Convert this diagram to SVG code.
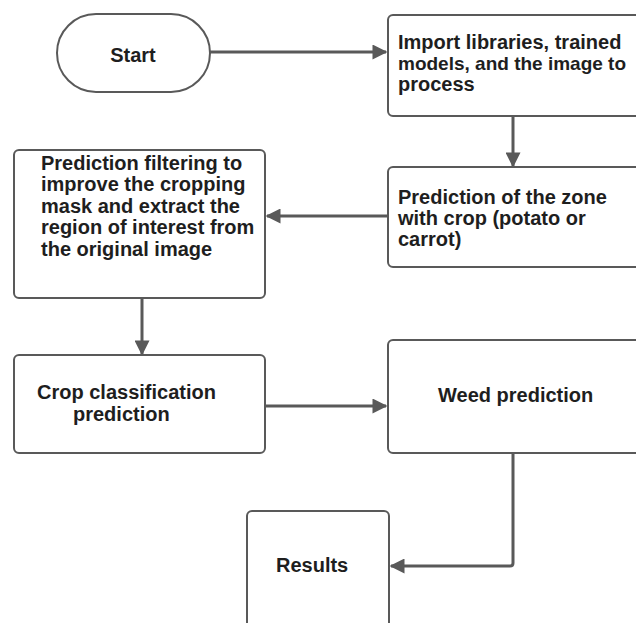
<svg xmlns="http://www.w3.org/2000/svg" width="636" height="623" viewBox="0 0 636 623">
<defs>
<style>
.box{fill:#fff;stroke:#595959;stroke-width:2}
.t{font-family:"Liberation Sans",Arial,sans-serif;font-weight:bold;font-size:20px;fill:#1e1e1e}
.c{fill:none;stroke:#595959;stroke-width:3}
</style>
<marker id="ah" viewBox="0 0 10 10" refX="9" refY="5" markerWidth="5.3" markerHeight="5" markerUnits="strokeWidth" orient="auto">
<path d="M0,0 L10,5 L0,10 z" fill="#595959"/>
</marker>
</defs>
<rect width="636" height="623" fill="#fff"/>
<g id="connectors">
<path class="c" d="M210,52 H386" marker-end="url(#ah)"/>
<path class="c" d="M513,116 V166" marker-end="url(#ah)"/>
<path class="c" d="M388,216 H267" marker-end="url(#ah)"/>
<path class="c" d="M142,298 V354" marker-end="url(#ah)"/>
<path class="c" d="M265,406 H386" marker-end="url(#ah)"/>
<path class="c" d="M513,453 V563 Q513,566 510,566 H391" marker-end="url(#ah)"/>
</g>
<g id="start">
<rect class="box" x="57" y="14" width="153" height="78" rx="39"/>
<text class="t" x="133" y="62" text-anchor="middle">Start</text>
</g>
<g id="import">
<rect class="box" x="388" y="15" width="260" height="101" rx="5"/>
<text class="t" x="398" y="49">Import libraries, trained</text>
<text class="t" x="398" y="70" style="font-size:19px">models, and the image to</text>
<text class="t" x="398" y="91">process</text>
</g>
<g id="zone">
<rect class="box" x="388" y="167" width="260" height="100" rx="5"/>
<text class="t" x="398" y="204">Prediction of the zone</text>
<text class="t" x="398" y="225">with crop (potato or</text>
<text class="t" x="398" y="246">carrot)</text>
</g>
<g id="filtering">
<rect class="box" x="14" y="150" width="251" height="148" rx="5"/>
<text class="t" x="41" y="170">Prediction filtering to</text>
<text class="t" x="41" y="191">improve the cropping</text>
<text class="t" x="41" y="213">mask and extract the</text>
<text class="t" x="41" y="234">region of interest from</text>
<text class="t" x="41" y="256">the original image</text>
</g>
<g id="crop">
<rect class="box" x="14" y="355" width="251" height="98" rx="5"/>
<text class="t" x="37" y="399">Crop classification</text>
<text class="t" x="73" y="421">prediction</text>
</g>
<g id="weed">
<rect class="box" x="388" y="340" width="260" height="113" rx="5"/>
<text class="t" x="438" y="402">Weed prediction</text>
</g>
<g id="results">
<rect class="box" x="247" y="511" width="142" height="125" rx="5"/>
<text class="t" x="276" y="572">Results</text>
</g>
</svg>
